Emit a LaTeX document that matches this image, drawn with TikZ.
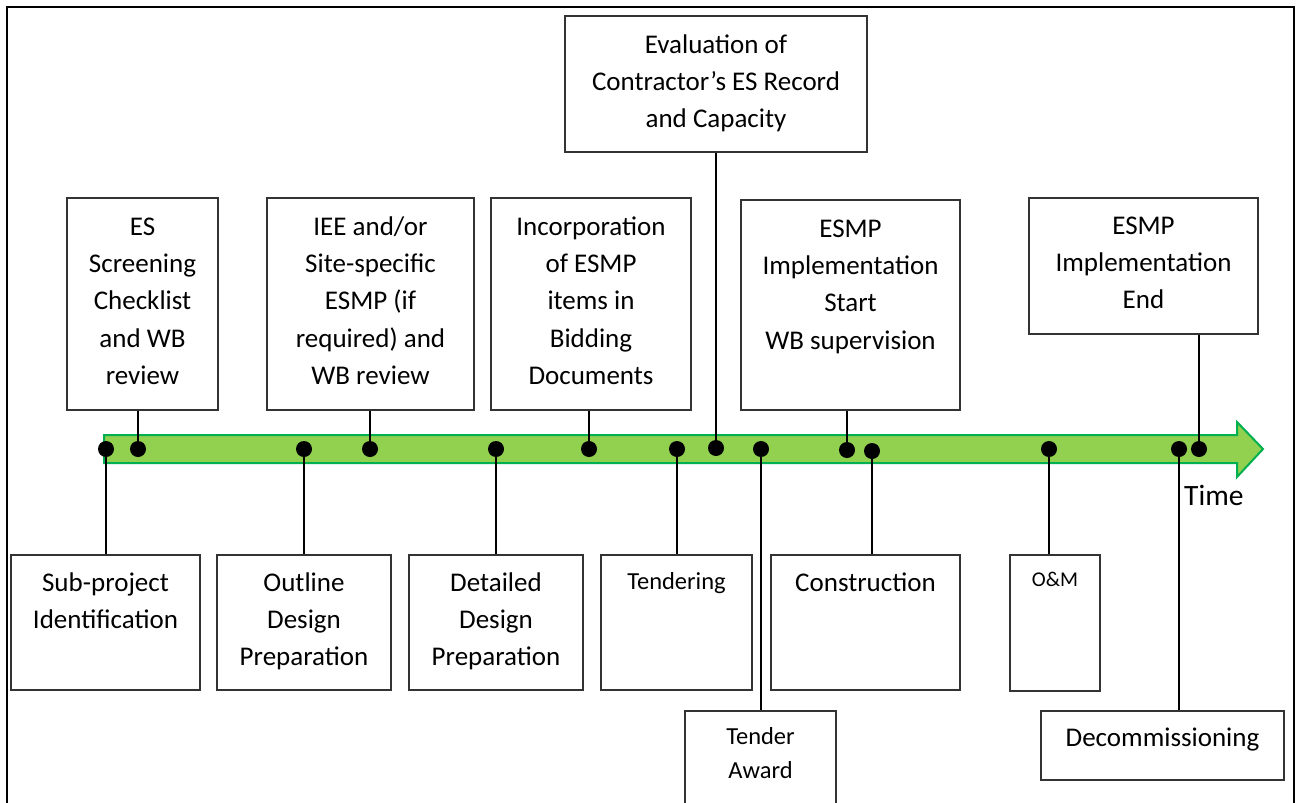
\documentclass[tikz,border=0pt]{standalone}
\usepackage{fontspec}
\setmainfont{Carlito}
\definecolor{arrowfill}{HTML}{92D050}
\definecolor{arrowline}{HTML}{00B050}
\definecolor{boxline}{HTML}{333333}
\begin{document}
\begin{tikzpicture}[x=1pt,y=-1pt,
  box/.style={draw=boxline,line width=1.3pt,fill=white,rectangle,inner sep=0pt},
  big/.style={font=\fontsize{27}{37.3}\selectfont,align=center,anchor=north,inner sep=0pt},
  mid/.style={font=\fontsize{24.5}{34}\selectfont,align=center,anchor=north,inner sep=0pt},
  small/.style={font=\fontsize{21}{28}\selectfont,align=center,anchor=north,inner sep=0pt},
  dot/.style={circle,fill=black,inner sep=0pt,minimum size=16pt},
  conn/.style={line width=2.8pt,black}]
\useasboundingbox (0,0) rectangle (1301,803);
\clip (0,0) rectangle (1301,803);
% frame
\draw[line width=2pt] (7,810) -- (7,7) -- (1294,7) -- (1294,810);
% arrow
\draw[fill=arrowfill,draw=arrowline,line width=2pt]
  (104,435) -- (1237,435) -- (1237,422) -- (1263,449) -- (1237,477) -- (1237,463) -- (104,463) -- cycle;
% boxes
\node[box,minimum width=151pt,minimum height=212pt] (es) at (142.5,304) {};
\node[box,minimum width=207pt,minimum height=212pt] (iee) at (370.5,304) {};
\node[box,minimum width=200pt,minimum height=212pt] (inc) at (591,304) {};
\node[box,minimum width=302pt,minimum height=136pt] (eval) at (716,84) {};
\node[box,minimum width=219pt,minimum height=210pt] (start) at (850.5,305) {};
\node[box,minimum width=229pt,minimum height=136pt] (endb) at (1143.5,266) {};
\node[box,minimum width=189pt,minimum height=135pt] (sub) at (105.5,622.5) {};
\node[box,minimum width=174pt,minimum height=135pt] (outl) at (304,622.5) {};
\node[box,minimum width=174pt,minimum height=135pt] (det) at (496,622.5) {};
\node[box,minimum width=151pt,minimum height=135pt] (tend) at (676.5,622.5) {};
\node[box,minimum width=189pt,minimum height=135pt] (cons) at (865.5,622.5) {};
\node[box,minimum width=90pt,minimum height=136pt] (om) at (1055,623) {};
\node[box,minimum width=151pt,minimum height=120pt] (award) at (760.5,771) {};
\node[box,minimum width=243pt,minimum height=69pt] (decom) at (1162.5,745.5) {};
% texts
\node[big] (tes) at (142.5,209) {\strut ES\\Screening\\Checklist\\and WB\\review};
\node[big] (tiee) at (370.5,209) {\strut IEE and/or\\Site-specific\\ESMP (if\\required) and\\WB review};
\node[big] (tinc) at (591,209) {\strut Incorporation\\of ESMP\\items in\\Bidding\\Documents};
\node[big] (teval) at (716,27) {\strut Evaluation of\\Contractor’s ES Record\\and Capacity};
\node[big] (tstart) at (850.5,211) {\strut ESMP\\Implementation\\Start\\WB supervision};
\node[big] (tendb) at (1143.5,208) {\strut ESMP\\Implementation\\End};
\node[big] (tsub) at (105.5,565) {\strut Sub-project\\Identification};
\node[big] (toutl) at (304,565) {\strut Outline\\Design\\Preparation};
\node[big] (tdet) at (496,565) {\strut Detailed\\Design\\Preparation};
\node[mid] (ttend) at (676.5,565) {\strut Tendering};
\node[big] (tcons) at (865.5,565) {\strut Construction};
\node[small] (tom) at (1055,566.5) {\strut O\&M};
\node[mid] (taward) at (760.5,720) {\strut Tender\\Award};
\node[big] (tdecom) at (1162.5,720) {\strut Decommissioning};
\node[font=\fontsize{29.5}{34}\selectfont,anchor=base west,inner sep=0pt] (time) at (1184,505) {Time};
% dots
\node[dot] (d1) at (106,449) {};
\node[dot] (d2) at (138,449) {};
\node[dot] (d3) at (304,449) {};
\node[dot] (d4) at (370,449) {};
\node[dot] (d5) at (496,449) {};
\node[dot] (d6) at (589,449) {};
\node[dot] (d7) at (677,449) {};
\node[dot] (d8) at (716,448) {};
\node[dot] (d9) at (761,449) {};
\node[dot] (d10) at (847,450) {};
\node[dot] (d11) at (872,451) {};
\node[dot] (d12) at (1049,449) {};
\node[dot] (d13) at (1179,449) {};
\node[dot] (d14) at (1199,449) {};
% connectors
\draw[conn] (d1.center) -- (d1 |- sub.north);
\draw[conn] (d2.center) -- (d2 |- es.south);
\draw[conn] (d3.center) -- (d3 |- outl.north);
\draw[conn] (d4.center) -- (d4 |- iee.south);
\draw[conn] (d5.center) -- (d5 |- det.north);
\draw[conn] (d6.center) -- (d6 |- inc.south);
\draw[conn] (d7.center) -- (d7 |- tend.north);
\draw[conn] (d8.center) -- (d8 |- eval.south);
\draw[conn] (d9.center) -- (d9 |- award.north);
\draw[conn] (d10.center) -- (d10 |- start.south);
\draw[conn] (d11.center) -- (d11 |- cons.north);
\draw[conn] (d12.center) -- (d12 |- om.north);
\draw[conn] (d13.center) -- (d13 |- decom.north);
\draw[conn] (d14.center) -- (d14 |- endb.south);
\end{tikzpicture}
\end{document}
